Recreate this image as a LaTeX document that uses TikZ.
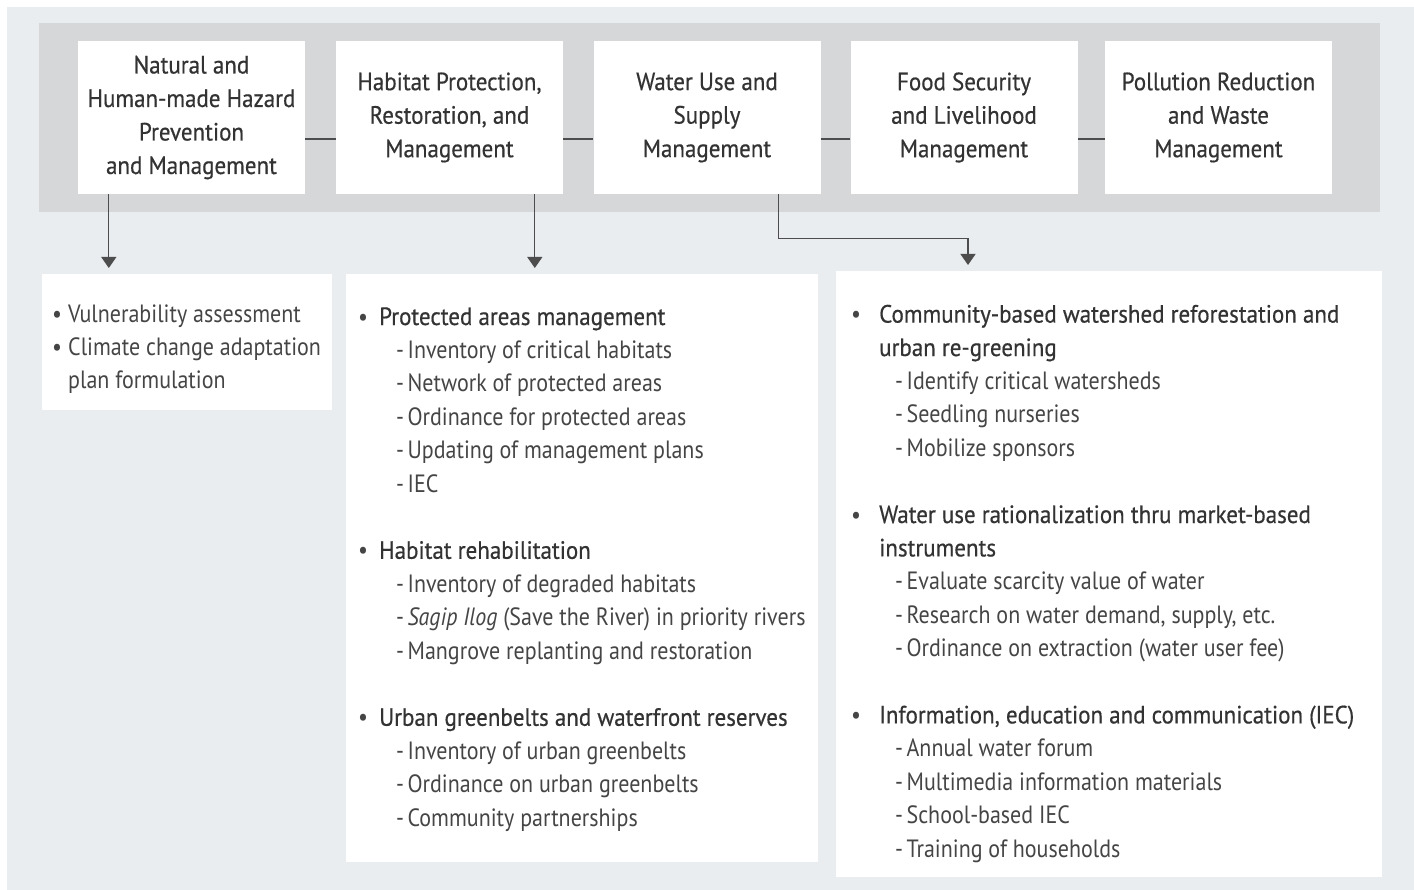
\documentclass[tikz,border=0pt]{standalone}
\usepackage{fontspec}
\setmainfont{PT Sans}[FakeStretch=0.88]
\newfontfamily\headfont{PT Sans}[FakeStretch=0.92,FakeBold=0.5]
\usetikzlibrary{arrows.meta,positioning,calc}

\definecolor{pagebg}{HTML}{E9EDF0}
\definecolor{bandgrey}{HTML}{D6D7D9}
\definecolor{inkgrey}{HTML}{333333}
\definecolor{itemgrey}{HTML}{454545}
\definecolor{linegrey}{HTML}{4D4D4D}

\newcommand{\headline}[2]{\makebox[#1][l]{\textbullet}{\headfont\color{inkgrey}#2}}
\newcommand{\subline}[2]{\hspace*{#1}-\hspace{3.5pt}#2}

\tikzset{
  topbox/.style={fill=white, minimum width=227pt, minimum height=153pt, inner sep=0pt, align=center, text=inkgrey, font=\headfont\fontsize{25}{33.5}\selectfont},
  listbox/.style={fill=white, inner sep=0pt, anchor=north west},
  listtext/.style={anchor=base west, inner sep=0pt, align=left, text=itemgrey, font=\fontsize{25}{33.4}\selectfont},
  link/.style={draw=linegrey, line width=1.2pt},
  down/.style={link, -{Triangle[width=15pt,length=11pt]}, shorten >=6pt},
}

\begin{document}
\begin{tikzpicture}[x=1pt,y=1pt]
\useasboundingbox (0,0) rectangle (1414,-890);
\fill[white] (0,0) rectangle (1414,-890);
\fill[pagebg] (7,-7) rectangle (1414,-890);
\fill[bandgrey] (39,-23) rectangle (1380,-212);

% five themes
\node[topbox] (hazard) at (191.5,-117.5) {Natural and\\Human-made Hazard\\Prevention\\and Management};
\node[topbox] (habitat) at (449.5,-117.5) {Habitat Protection,\\Restoration, and\\Management};
\node[topbox] (water) at (707,-117.5) {Water Use and\\Supply\\Management};
\node[topbox] (food) at (964,-117.5) {Food Security\\and Livelihood\\Management};
\node[topbox] (pollution) at (1218.5,-117.5) {Pollution Reduction\\and Waste\\Management};

\draw[link] ([yshift=-21.5pt]hazard.east) -- ([yshift=-21.5pt]habitat.west);
\draw[link] ([yshift=-21.5pt]habitat.east) -- ([yshift=-21.5pt]water.west);
\draw[link] ([yshift=-21.5pt]water.east) -- ([yshift=-21.5pt]food.west);
\draw[link] ([yshift=-21.5pt]food.east) -- ([yshift=-21.5pt]pollution.west);

% programme boxes
\node[listbox, minimum width=290pt, minimum height=136pt] (hazardlist) at (42,-274) {};
\node[listbox, minimum width=472pt, minimum height=588pt] (habitatlist) at (346,-274) {};
\node[listbox, minimum width=546pt, minimum height=606pt] (waterlist) at (836,-271) {};

% text nodes sit on the baseline of their last line
\node[listtext] (hazardtext) at (52,-389) {%
\makebox[16pt][l]{\textbullet}Vulnerability assessment\\
\makebox[16pt][l]{\textbullet}Climate change adaptation\\
\hspace*{16pt}plan formulation};

\node[listtext] (habitattext) at (358,-826) {%
\headline{21pt}{Protected areas management}\\
\subline{38pt}{Inventory of critical habitats}\\
\subline{38pt}{Network of protected areas}\\
\subline{38pt}{Ordinance for protected areas}\\
\subline{38pt}{Updating of management plans}\\
\subline{38pt}{IEC}\\[33.4pt]
\headline{21pt}{Habitat rehabilitation}\\
\subline{38pt}{Inventory of degraded habitats}\\
\subline{38pt}{\textit{Sagip Ilog} (Save the River) in priority rivers}\\
\subline{38pt}{Mangrove replanting and restoration}\\[33.4pt]
\headline{21pt}{Urban greenbelts and waterfront reserves}\\
\subline{38pt}{Inventory of urban greenbelts}\\
\subline{38pt}{Ordinance on urban greenbelts}\\
\subline{38pt}{Community partnerships}};

\node[listtext] (watertext) at (851,-857) {%
\headline{28pt}{Community-based watershed reforestation and}\\
\hspace*{28pt}{\headfont\color{inkgrey}urban re-greening}\\
\subline{44pt}{Identify critical watersheds}\\
\subline{44pt}{Seedling nurseries}\\
\subline{44pt}{Mobilize sponsors}\\[33.4pt]
\headline{28pt}{Water use rationalization thru market-based}\\
\hspace*{28pt}{\headfont\color{inkgrey}instruments}\\
\subline{44pt}{Evaluate scarcity value of water}\\
\subline{44pt}{Research on water demand, supply, etc.}\\
\subline{44pt}{Ordinance on extraction (water user fee)}\\[33.4pt]
\headline{28pt}{Information, education and communication (IEC)}\\
\subline{44pt}{Annual water forum}\\
\subline{44pt}{Multimedia information materials}\\
\subline{44pt}{School-based IEC}\\
\subline{44pt}{Training of households}};

% arrows
\coordinate (hazardout) at ([xshift=31pt]hazard.south west);
\coordinate (habitatout) at ([xshift=199pt]habitat.south west);
\coordinate (waterout) at ([xshift=185pt]water.south west);
\coordinate (waterin) at ([xshift=132pt]waterlist.north west);
\draw[down] (hazardout) -- (hazardout |- hazardlist.north);
\draw[down] (habitatout) -- (habitatout |- habitatlist.north);
\draw[down] (waterout) -- ++(0,-44) -| (waterin);
\end{tikzpicture}
\end{document}
